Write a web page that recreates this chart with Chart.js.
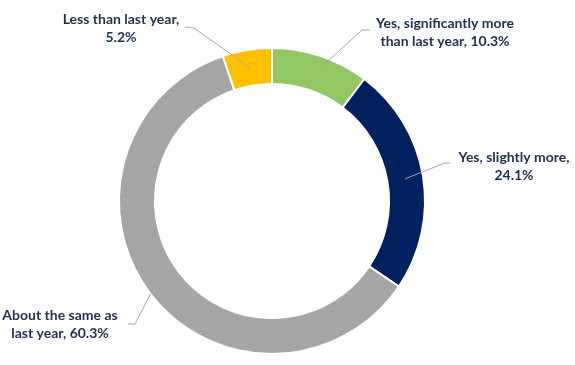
<!DOCTYPE html>
<html>
<head>
<meta charset="utf-8">
<script src="https://cdn.jsdelivr.net/npm/chart.js@4"></script>
<style>
  html, body { margin: 0; padding: 0; background: #fff; }
  #wrap { width: 575px; height: 365px; position: relative; }
</style>
</head>
<body>
<div id="wrap"><canvas id="c" width="575" height="365"></canvas></div>
<script>
const categories = [
  'Yes, significantly more than last year',
  'Yes, slightly more',
  'About the same as last year',
  'Less than last year'
];
const values = [10.3, 24.1, 60.3, 5.2];
const labelLines = [
  ['Yes, significantly more', 'than last year, 10.3%'],
  ['Yes, slightly more,', '24.1%'],
  ['About the same as', 'last year, 60.3%'],
  ['Less than last year,', '5.2%']
];
const colors = ['#92C863', '#002060', '#A6A6A6', '#FFC000'];

// Dotted texture for the grey slice
function dotPattern(base) {
  const t = document.createElement('canvas');
  t.width = 10; t.height = 10;
  const g = t.getContext('2d');
  g.fillStyle = base; g.fillRect(0, 0, 10, 10);
  g.fillStyle = '#8A98B4';
  g.fillRect(1, 1, 1, 1);
  g.fillRect(6, 6, 1, 1);
  return g.createPattern(t, 'repeat');
}
const fills = colors.slice();
fills[2] = dotPattern(colors[2]);

// Label layout (positions of text blocks and leader elbows)
const labelLayout = [
  { x: 445, y: 23, elbow: [[370, 30], [362, 30]], r: 'mid' },
  { x: 514, y: 157, elbow: [[450, 163], [445, 163]], r: 'mid' },
  { x: 60, y: 315, elbow: [[128, 324], [135, 324]], r: 'outer' },
  { x: 121, y: 19, elbow: [[185, 27], [194, 28]], r: 'mid' }
];

const labelPlugin = {
  id: 'sliceLabels',
  afterDatasetsDraw(chart) {
    const ctx = chart.ctx;
    const meta = chart.getDatasetMeta(0);
    ctx.save();
    meta.data.forEach((arc, i) => {
      const p = arc.getProps(['x', 'y', 'startAngle', 'endAngle', 'innerRadius', 'outerRadius'], true);
      const mid = (p.startAngle + p.endAngle) / 2;
      const L = labelLayout[i];
      const rr = L.r === 'outer' ? p.outerRadius : (p.innerRadius + p.outerRadius) / 2;
      const ex = p.x + Math.cos(mid) * rr;
      const ey = p.y + Math.sin(mid) * rr;
      ctx.strokeStyle = '#A6A6A6';
      ctx.lineWidth = 1;
      ctx.beginPath();
      ctx.moveTo(L.elbow[0][0], L.elbow[0][1]);
      ctx.lineTo(L.elbow[1][0], L.elbow[1][1]);
      ctx.lineTo(ex, ey);
      ctx.stroke();
      ctx.fillStyle = '#1F2F4F';
      ctx.font = 'bold 14px Lato, "Open Sans", sans-serif';
      ctx.textAlign = 'center';
      ctx.textBaseline = 'middle';
      labelLines[i].forEach((line, k) => {
        ctx.fillText(line, L.x, L.y + k * 18);
      });
    });
    ctx.restore();
  }
};

new Chart(document.getElementById('c'), {
  type: 'doughnut',
  data: {
    labels: categories,
    datasets: [{
      data: values,
      backgroundColor: fills,
      borderColor: '#FFFFFF',
      borderWidth: 2
    }]
  },
  options: {
    responsive: false,
    animation: false,
    cutout: '76.5%',
    layout: { padding: { top: 47, bottom: 10, left: 118, right: 149 } },
    plugins: {
      legend: { display: false },
      tooltip: { enabled: false }
    }
  },
  plugins: [labelPlugin]
});
</script>
</body>
</html>
